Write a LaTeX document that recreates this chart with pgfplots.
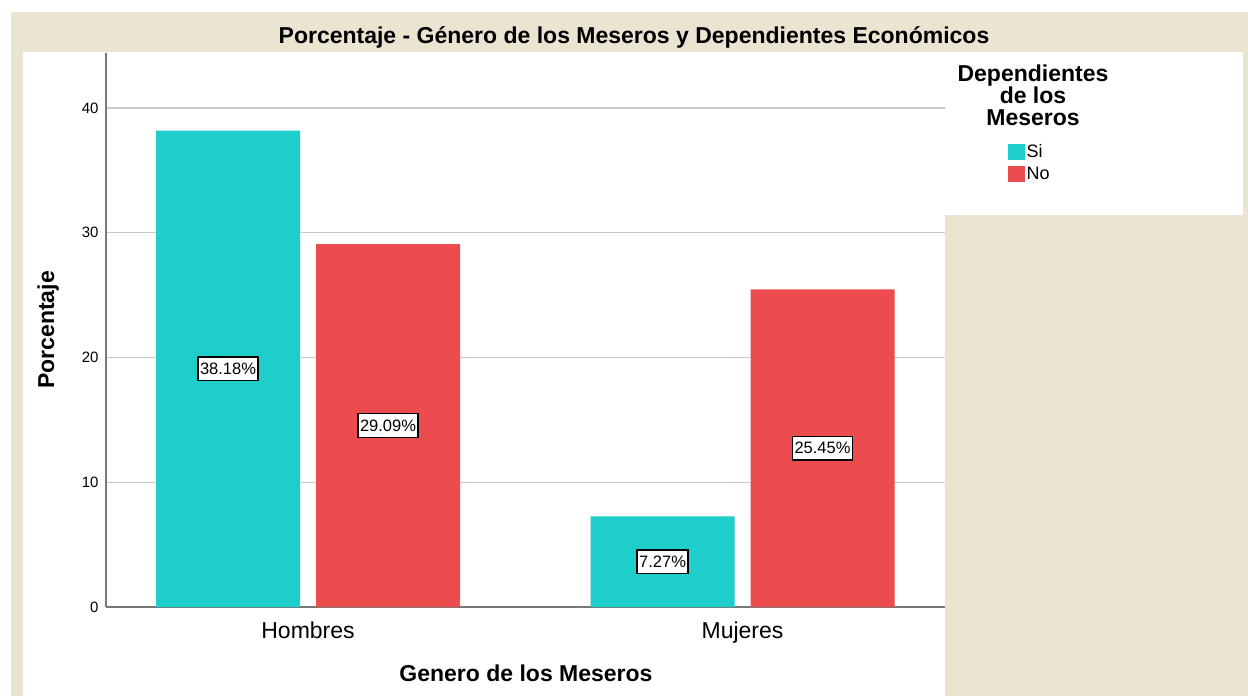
\documentclass[border=0pt]{standalone}
\usepackage{fontspec}
\setmainfont{Liberation Sans}
\usepackage{pgfplots}
\pgfplotsset{compat=1.18}

\definecolor{siTeal}{RGB}{30,206,203}
\definecolor{noRed}{RGB}{236,76,77}
\definecolor{spssBeige}{RGB}{234,228,208}
\definecolor{gridGray}{RGB}{200,200,200}
\definecolor{axisGray}{RGB}{120,120,120}

\begin{document}
\begin{tikzpicture}[x=1pt,y=1pt]
% chart frame
\fill[white] (0,0) rectangle (1248,-696);
\fill[spssBeige] (11,-12) rectangle (1248,-696);
\fill[white] (23,-52) rectangle (945,-696);
\fill[white] (945,-52) rectangle (1243,-215);

\node[anchor=base, font=\fontsize{23}{27}\selectfont\bfseries]
  at (634,-43) {Porcentaje - Género de los Meseros y Dependientes Económicos};
\node[anchor=north, align=center, inner sep=0pt, font=\fontsize{23}{22}\selectfont\bfseries]
  at (1033,-65) {Dependientes\\de los\\Meseros};

\begin{axis}[
    at={(106pt,-607pt)}, anchor=south west,
    scale only axis, width=839pt, height=554pt,
    ybar=16pt, bar width=144pt,
    xmin=-0.465, xmax=1.466, ymin=0, ymax=44.4,
    xtick={0,1}, xticklabels={Hombres,Mujeres},
    ytick={0,10,20,30,40},
    axis x line*=bottom, axis y line*=left,
    axis line style={axisGray, line width=1.3pt, -},
    major tick length=0pt,
    ymajorgrids, grid style={gridGray, line width=1.3pt},
    /pgf/number format/assume math mode=true,
    yticklabel style={font=\fontsize{15}{16}\selectfont, xshift=-4pt},
    xticklabel style={font=\fontsize{23}{26}\selectfont, yshift=-11pt},
    xlabel={Genero de los Meseros},
    ylabel={Porcentaje},
    xlabel style={at={(axis description cs:0.5006,-0.119)}, anchor=center,
        font=\fontsize{23}{26}\selectfont\bfseries},
    ylabel style={at={(axis description cs:-0.069,0.5)}, anchor=center,
        font=\fontsize{23}{26}\selectfont\bfseries},
    nodes near coords={\pgfmathprintnumber[fixed,fixed zerofill,precision=2]{\pgfplotspointmeta}\%},
    visualization depends on={y \as \rawy},
    every node near coord/.append style={anchor=center,
        shift={(axis direction cs:0,-\rawy/2)},
        fill=white, draw=black, line width=1.4pt, text=black,
        inner xsep=2pt, inner ysep=6pt, font=\fontsize{16.5}{18}\selectfont},
    legend style={at={(1.075,0.838)}, anchor=north west, draw=none, fill=none,
        font=\fontsize{18}{20}\selectfont, row sep=5pt, inner sep=0pt,
        nodes={inner sep=1.5pt}},
    legend image code/.code={\fill[#1] (0pt,-8pt) rectangle (17pt,8pt);},
    legend cell align=left,
]
\addplot[fill=siTeal, draw=none] coordinates {(0,38.18) (1,7.27)};
\addplot[fill=noRed, draw=none] coordinates {(0,29.09) (1,25.45)};
\legend{Si,No}
\end{axis}

\pgfresetboundingbox
\useasboundingbox (0,0) rectangle (1248,-696);
\end{tikzpicture}
\end{document}
